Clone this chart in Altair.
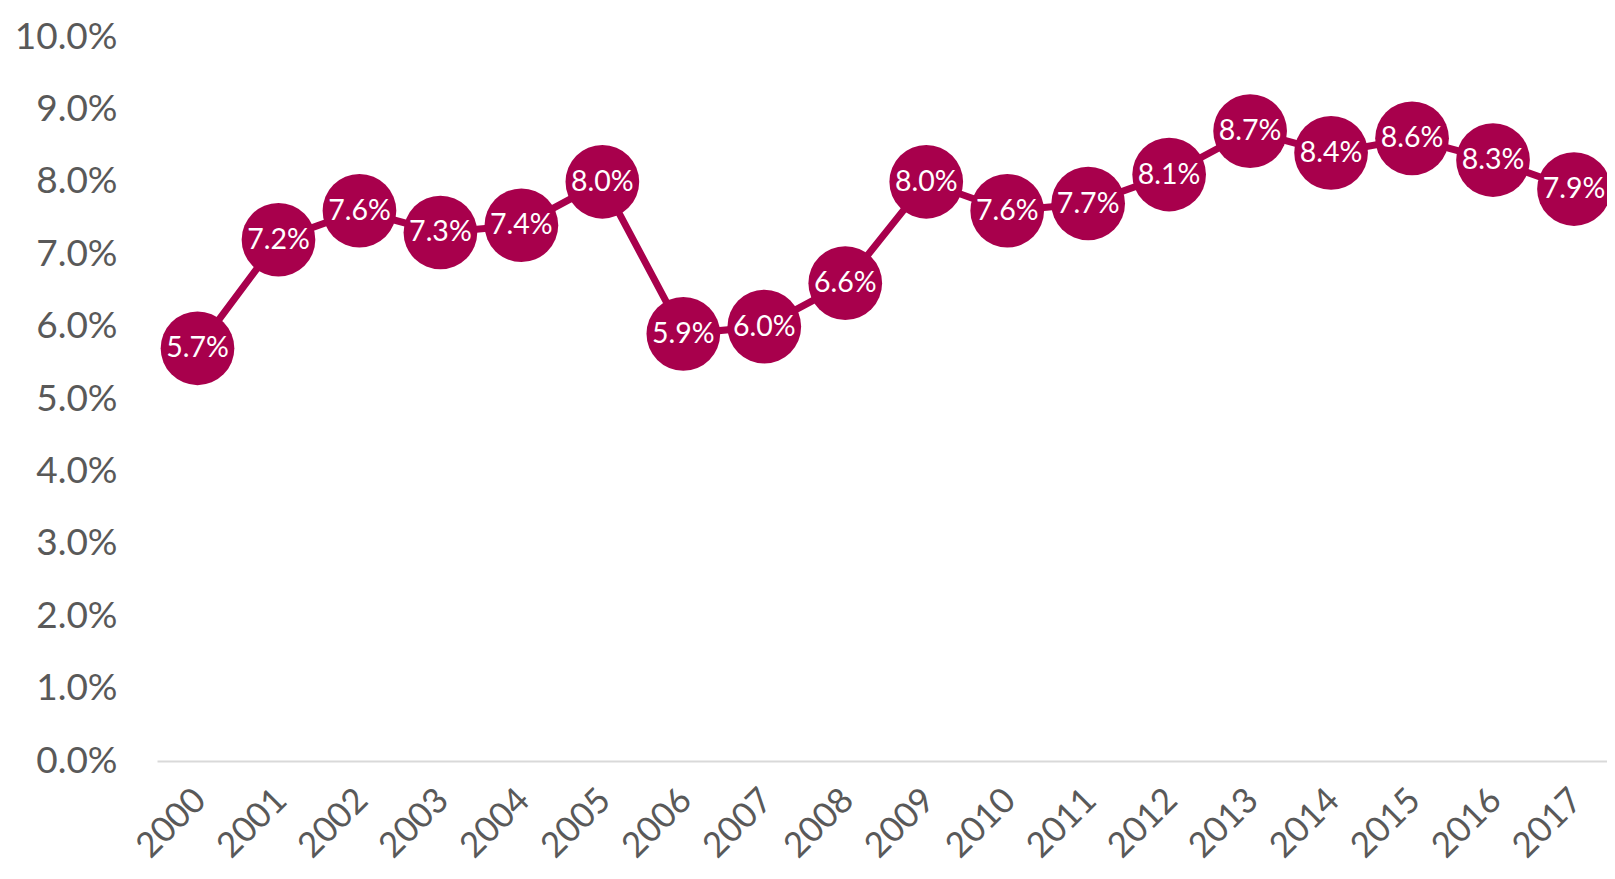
import altair as alt
import pandas as pd

years = [str(y) for y in range(2000, 2018)]
values = [5.7, 7.2, 7.6, 7.3, 7.4, 8.0, 5.9, 6.0, 6.6, 8.0, 7.6, 7.7, 8.1, 8.7, 8.4, 8.6, 8.3, 7.9]
y_ticks = [i / 100 for i in range(0, 11)]

df = pd.DataFrame({"year": years, "rate": [v / 100 for v in values]})

COLOR = "#A8004C"
FONT = "Lato"
GRAY = "#595959"

x = alt.X("year:O", sort=years, title=None,
          scale=alt.Scale(type="point", padding=0.454, align=0.551),
          axis=alt.Axis(labelAngle=-45, labelFontSize=35, labelColor=GRAY, labelFont=FONT,
                        ticks=False, domain=True, domainColor="#d9d9d9", domainWidth=2,
                        labelPadding=21, labelOffset=-10, labelAlign="right", labelBaseline="top"))
y = alt.Y("rate:Q", title=None,
          scale=alt.Scale(domain=[0, 0.10], nice=False),
          axis=alt.Axis(values=y_ticks, format=".1%", labelFontSize=37, labelColor=GRAY,
                        labelFont=FONT, ticks=False, domain=False, grid=False, labelPadding=40))

base = alt.Chart(df).encode(x=x, y=y)

line = base.mark_line(color=COLOR, strokeWidth=7)
points = base.mark_point(filled=True, shape="circle", size=5430, color=COLOR, opacity=1)
labels = base.mark_text(color="white", fontSize=28.5, font=FONT, align="center", baseline="middle").encode(
    text=alt.Text("rate:Q", format=".1%"))

chart = (line + points + labels).properties(
    width=1450, height=724,
    autosize="none",
    padding={"left": 149, "top": 29, "right": 0, "bottom": 110},
    background="white",
).configure_view(strokeWidth=0)

chart.save("out.html", embed_options={"renderer": "svg", "actions": False})
